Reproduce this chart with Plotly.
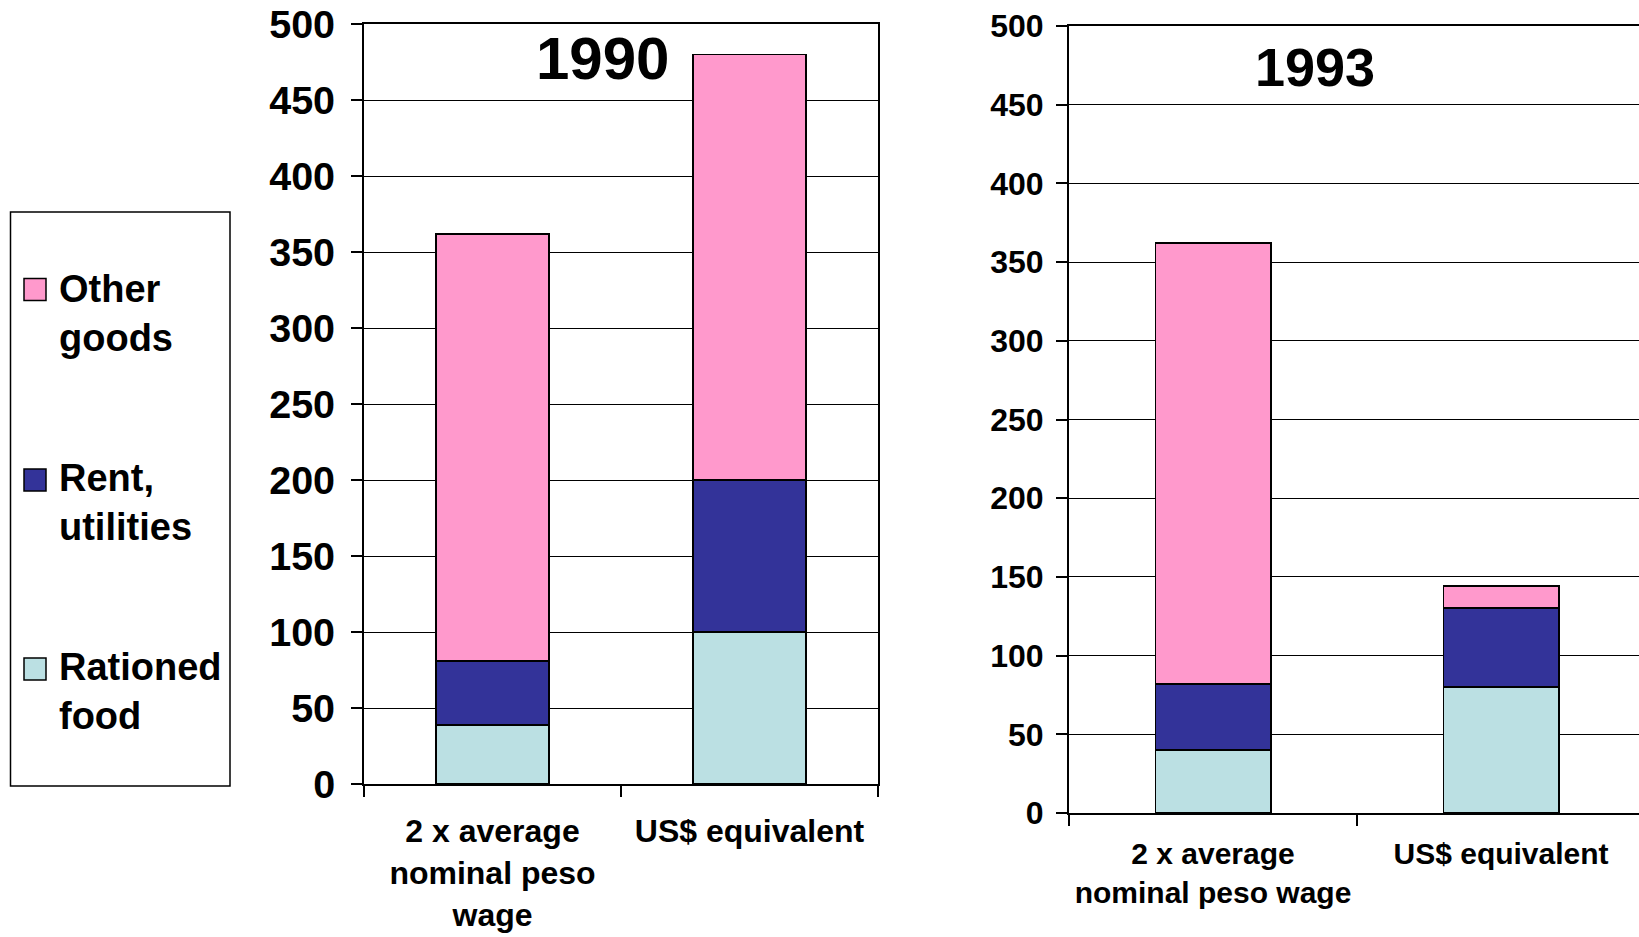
import plotly.graph_objects as go
from plotly.subplots import make_subplots

# Series values (monthly, in pesos / US$ equivalent)
series_names = ["Rationed food", "Rent, utilities", "Other goods"]
series_labels = ["Rationed<br>food", "Rent,<br>utilities", "Other<br>goods"]
series_colors = ["#BBE0E3", "#333399", "#FF99CC"]

categories_1990 = ["2 x average<br>nominal peso<br>wage", "US$ equivalent"]
categories_1993 = ["2 x average<br>nominal peso wage", "US$ equivalent"]

rationed_food_1990 = [39, 100]
rent_utilities_1990 = [42, 100]
other_goods_1990 = [281, 280]

rationed_food_1993 = [40, 80]
rent_utilities_1993 = [42, 50]
other_goods_1993 = [280, 14]

y_ticks = [0, 50, 100, 150, 200, 250, 300, 350, 400, 450, 500]

W, H = 1639, 937
FONT = "Liberation Sans, Arial, sans-serif"


def px_x(v):
    return v / W


def px_y(v):
    return 1 - v / H


fig = make_subplots(rows=1, cols=2)

values_1990 = [rationed_food_1990, rent_utilities_1990, other_goods_1990]
values_1993 = [rationed_food_1993, rent_utilities_1993, other_goods_1993]

for name, color, vals in zip(series_names, series_colors, values_1990):
    fig.add_trace(go.Bar(x=categories_1990, y=vals, name=name, width=0.44,
                         marker=dict(color=color, line=dict(color="black", width=1.8)),
                         showlegend=False), row=1, col=1)
for name, color, vals in zip(series_names, series_colors, values_1993):
    fig.add_trace(go.Bar(x=categories_1993, y=vals, name=name, width=0.40,
                         marker=dict(color=color, line=dict(color="black", width=1.8)),
                         showlegend=False), row=1, col=2)

common_y = dict(range=[0, 500], tickvals=y_ticks, ticks="outside", ticklen=11,
                tickwidth=1.5, tickcolor="black", showgrid=True, gridcolor="black",
                gridwidth=1.3, zeroline=False, showline=True, linecolor="black",
                linewidth=2, automargin=False)
common_x = dict(type="category", tickson="boundaries", ticks="outside", ticklen=11,
                tickwidth=2, tickcolor="black", showgrid=False, showline=True,
                linecolor="black", linewidth=2, automargin=False)

fig.update_layout(
    width=W, height=H,
    margin=dict(l=0, r=0, t=0, b=0, autoexpand=False),
    paper_bgcolor="white", plot_bgcolor="white",
    barmode="stack",
    xaxis=dict(common_x, domain=[px_x(364), px_x(878)], range=[-0.5, 1.5], mirror=True,
               ticklabelstandoff=18,
               tickfont=dict(family=FONT, size=32, color="black", weight="bold")),
    yaxis=dict(common_y, domain=[px_y(784), px_y(24)], mirror=True,
               ticklabelstandoff=8,
               tickfont=dict(family=FONT, size=39.5, color="black", weight="bold")),
    xaxis2=dict(common_x, domain=[px_x(1069), 1.0], range=[-0.5, 1.479], mirror=True,
                ticklabelstandoff=13,
                tickfont=dict(family=FONT, size=30, color="black", weight="bold")),
    yaxis2=dict(common_y, domain=[px_y(813), px_y(26)], mirror=False,
                ticklabelstandoff=6,
                tickfont=dict(family=FONT, size=32, color="black", weight="bold")),
)

# Panel titles
fig.add_annotation(text="1990", xref="paper", yref="paper", x=px_x(602), y=px_y(59),
                   xanchor="center", yanchor="middle", showarrow=False,
                   font=dict(family=FONT, size=60, color="black", weight="bold"))
fig.add_annotation(text="1993", xref="paper", yref="paper", x=px_x(1315), y=px_y(67),
                   xanchor="center", yanchor="middle", showarrow=False,
                   font=dict(family=FONT, size=54, color="black", weight="bold"))

# Legend box with swatches, listed top to bottom
fig.add_shape(type="rect", xref="paper", yref="paper",
              x0=px_x(10.5), x1=px_x(230), y0=px_y(786), y1=px_y(212),
              line=dict(color="black", width=1.5), fillcolor="rgba(0,0,0,0)")

legend_rows = [(289.5, 313), (480, 502), (669, 691)]
for (sw_y, text_y), label, color in zip(legend_rows, series_labels[::-1], series_colors[::-1]):
    fig.add_shape(type="rect", xref="paper", yref="paper",
                  x0=px_x(24), x1=px_x(46), y0=px_y(sw_y + 11), y1=px_y(sw_y - 11),
                  line=dict(color="black", width=1.5), fillcolor=color)
    fig.add_annotation(text=label, xref="paper", yref="paper", x=px_x(57), y=px_y(text_y),
                       xanchor="left", yanchor="middle", align="left", showarrow=False,
                       font=dict(family=FONT, size=38, color="black", weight="bold"))

fig.write_html("out.html")
